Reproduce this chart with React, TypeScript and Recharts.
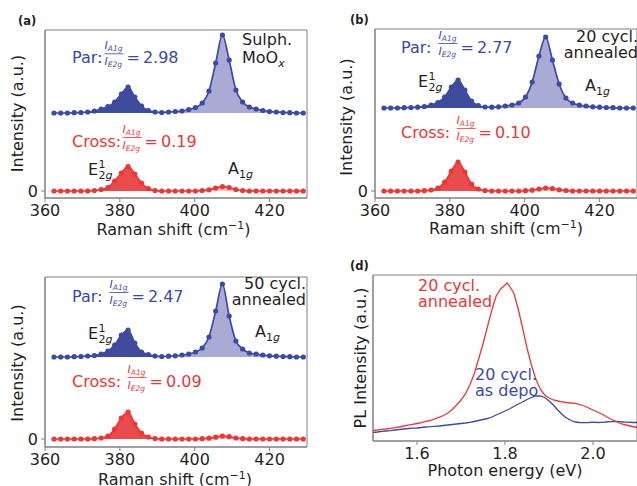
import React from 'react';
import { ComposedChart, Line, Area, XAxis, YAxis, ReferenceArea } from 'recharts';

const FONT = '"DejaVu Sans", "Liberation Sans", sans-serif';
const INK = '#1f1f1f';
const SPINE = '#808080';
const BLUE = '#3a4aa6';
const BLUE_E2G_FILL = '#3f4c9c';
const BLUE_A1G_FILL = '#aaabd4';
const RED = '#f03535';
const RED_E2G_FILL = '#ea4b4d';
const RED_A1G_FILL = '#f8c2c2';

// Raman shift sampling (cm^-1), shared by the three Raman panels
const ramanShift = [
  362.4, 364.2, 366.0, 367.8, 369.6, 371.4, 373.2, 375.0, 376.8, 378.6,
  380.4, 382.2, 384.0, 385.8, 387.6, 389.4, 391.2, 393.0, 394.8, 396.6,
  398.4, 400.2, 402.0, 403.8, 405.6, 407.4, 409.2, 411.0, 412.8, 414.6,
  416.4, 418.2, 420.0, 421.8, 423.6, 425.4, 427.2, 429.0,
];
const ramanTicks = [360, 380, 400, 420];

// (a) Sulphurised MoOx
const parSulph = [
  0, 0, 0, 0.3, 0.5, 1, 2, 4, 6.5, 11,
  19, 26, 16, 7, 2.5, 1, 0.5, 1, 1.5, 2,
  3.5, 5.5, 10, 22, 50, 78, 53, 23, 11, 6,
  4, 2.5, 1.5, 1, 0.5, 0.3, 0, 0,
];
const crossSulph = [
  0, 0, 0, 0, 0, 0, 0.5, 1.5, 3.5, 10,
  18, 24.5, 17, 8, 2.5, 0.5, 0, 0, 0, 0,
  0, 0, 0.5, 1.2, 3, 4.3, 3.5, 1.5, 0.5, 0,
  0, 0, 0, 0, 0, 0, 0, 0,
];

// (b) 20 cycles, annealed
const par20 = [
  0, 0, 0, 0.3, 0.5, 0.8, 1.5, 3, 5.5, 11,
  21, 28, 18, 7, 2.5, 1, 0.8, 1.2, 2, 3,
  5, 11, 26, 52, 71, 48, 24, 10, 5, 3,
  2, 1.2, 0.8, 0.5, 0.3, 0, 0, 0,
];
const cross20 = [
  0, 0, 0, 0, 0, 0, 0.3, 1, 3, 9,
  20, 29, 19, 7, 2, 0.5, 0, 0, 0, 0,
  0, 0.3, 0.8, 2, 3, 2.5, 1.2, 0.5, 0, 0,
  0, 0, 0, 0, 0, 0, 0, 0,
];

// (c) 50 cycles, annealed
const par50 = [
  0, 0, 0, 0.3, 0.5, 1, 1.5, 3, 6, 12,
  22, 27, 14, 5, 2.5, 1, 0.5, 0.8, 1.2, 2,
  3, 5, 9, 20, 46, 73, 41, 16, 8, 4,
  3, 2, 1.2, 0.8, 0.5, 0.3, 0, 0,
];
const cross50 = [
  0, 0, 0, 0, 0, 0, 0.3, 1, 3, 10,
  21, 27, 15, 6, 2, 0.5, 0, 0, 0, 0,
  0, 0, 0.3, 0.8, 1.8, 3, 2.3, 1, 0.3, 0,
  0, 0, 0, 0, 0, 0, 0, 0,
];

// (d) photoluminescence
const photonEnergy = [
  1.5, 1.51, 1.52, 1.53, 1.54, 1.55, 1.56, 1.57, 1.58, 1.59,
  1.6, 1.61, 1.62, 1.63, 1.64, 1.65, 1.66, 1.67, 1.68, 1.69,
  1.7, 1.71, 1.72, 1.73, 1.74, 1.75, 1.76, 1.77, 1.78, 1.79,
  1.8, 1.805, 1.81, 1.82, 1.83, 1.84, 1.85, 1.86, 1.87, 1.88,
  1.89, 1.9, 1.91, 1.92, 1.93, 1.94, 1.95, 1.96, 1.97, 1.98,
  1.99, 2.0, 2.01, 2.02, 2.03, 2.04, 2.05, 2.06, 2.07, 2.08,
  2.09, 2.1,
];
const plAnnealed = [
  10.5, 11, 11.6, 12, 12.6, 13.4, 14, 15, 15.8, 16.6,
  17.5, 18.4, 19.6, 20.5, 22, 23.6, 25.5, 28, 31.5, 36,
  41, 47, 56, 67, 82, 97, 114, 131, 145, 152,
  156, 158, 155, 148, 132, 113, 93, 76, 62, 52,
  46, 43, 41, 40, 39.2, 38.5, 38, 37.6, 36.5, 35,
  33, 31, 29, 27, 24.5, 22, 20, 18, 16.5, 15.5,
  14.5, 13.5,
];
const plAsDeposited = [
  8.5, 9, 9.6, 10, 10.4, 11, 11.5, 12, 12.5, 12.8,
  13, 13.5, 14, 14.3, 14.7, 15, 15.5, 16, 16.5, 17,
  17.5, 18, 18.7, 19.5, 20.5, 21.5, 22.5, 24, 26, 28,
  30, 31, 32, 34.5, 37, 39, 41.5, 43.5, 45, 45,
  43.5, 40, 36, 31, 26.5, 23, 20.5, 19, 18.5, 18.3,
  18.5, 18.8, 18.5, 18.7, 19, 19.3, 19.5, 19.3, 19, 18.8,
  18.5, 18.5,
];
const energyTicks = [1.6, 1.8, 2.0];

// Boundaries between the E2g and A1g shaded regions
const PAR_SPLIT = 389.4;
const CROSS_SPLIT = 393.0;

type RamanRow = {
  x: number;
  par: number;
  cross: number;
  parE2g: number | null;
  parA1g: number | null;
  crossE2g: number | null;
  crossA1g: number | null;
};

function buildRaman(par: number[], cross: number[], offset: number): RamanRow[] {
  return ramanShift.map((x, i) => {
    const p = par[i] + offset;
    const c = cross[i];
    return {
      x,
      par: p,
      cross: c,
      parE2g: x <= PAR_SPLIT ? p : null,
      parA1g: x >= PAR_SPLIT ? p : null,
      crossE2g: x <= CROSS_SPLIT ? c : null,
      crossA1g: x >= CROSS_SPLIT ? c : null,
    };
  });
}

const plRows = photonEnergy.map((e, i) => ({ e, ann: plAnnealed[i], depo: plAsDeposited[i] }));

const tickStyle = { fontSize: 16, fill: INK, fontFamily: FONT };

type Box = {
  left: number;
  top: number;
  width: number;
  height: number;
  margin: { top: number; right: number; bottom: number; left: number };
};

function RamanPanel({ rows, offset, yDomain, box }: { rows: RamanRow[]; offset: number; yDomain: [number, number]; box: Box }) {
  const areaCommon = {
    type: 'monotone' as const,
    stroke: 'none',
    fillOpacity: 1,
    isAnimationActive: false,
    dot: false,
    activeDot: false,
  };
  return (
    <div style={{ position: 'absolute', left: box.left, top: box.top }}>
      <ComposedChart width={box.width} height={box.height} data={rows} margin={box.margin}>
        <XAxis
          dataKey="x"
          type="number"
          domain={[360, 430]}
          ticks={ramanTicks}
          allowDataOverflow
          tick={tickStyle}
          tickSize={4}
          tickMargin={3}
          stroke={SPINE}
          height={30}
        />
        <YAxis
          type="number"
          domain={yDomain}
          ticks={[0]}
          allowDataOverflow
          tick={tickStyle}
          tickSize={4}
          tickMargin={3}
          stroke={SPINE}
          width={45}
        />
        <Area {...areaCommon} dataKey="crossE2g" baseValue={0} fill={RED_E2G_FILL} />
        <Area {...areaCommon} dataKey="crossA1g" baseValue={0} fill={RED_A1G_FILL} />
        <Area {...areaCommon} dataKey="parE2g" baseValue={offset} fill={BLUE_E2G_FILL} />
        <Area {...areaCommon} dataKey="parA1g" baseValue={offset} fill={BLUE_A1G_FILL} />
        <Line
          type="monotone"
          dataKey="cross"
          stroke={RED}
          strokeWidth={1.7}
          dot={{ r: 2.6, fill: RED, stroke: RED, strokeWidth: 0 }}
          activeDot={false}
          isAnimationActive={false}
        />
        <Line
          type="monotone"
          dataKey="par"
          stroke={BLUE}
          strokeWidth={1.7}
          dot={{ r: 2.6, fill: BLUE, stroke: BLUE, strokeWidth: 0 }}
          activeDot={false}
          isAnimationActive={false}
        />
        <ReferenceArea
          x1={360}
          x2={430}
          y1={yDomain[0]}
          y2={yDomain[1]}
          fill="none"
          fillOpacity={0}
          stroke={SPINE}
          strokeWidth={1}
          ifOverflow="visible"
        />
      </ComposedChart>
    </div>
  );
}

function PLPanel() {
  return (
    <div style={{ position: 'absolute', left: 318, top: 240 }}>
      <ComposedChart width={319} height={246} data={plRows} margin={{ top: 35, right: 0, bottom: 15, left: 0 }}>
        <XAxis
          dataKey="e"
          type="number"
          domain={[1.5, 2.1]}
          ticks={energyTicks}
          tickFormatter={(v: number) => v.toFixed(1)}
          allowDataOverflow
          tick={tickStyle}
          tickSize={4}
          tickMargin={3}
          stroke={SPINE}
          height={30}
        />
        <YAxis type="number" domain={[0, 166]} ticks={[]} tick={false} tickLine={false} stroke={SPINE} width={55} />
        <Line type="linear" dataKey="depo" stroke={BLUE} strokeWidth={1.3} dot={false} activeDot={false} isAnimationActive={false} />
        <Line type="linear" dataKey="ann" stroke={RED} strokeWidth={1.3} dot={false} activeDot={false} isAnimationActive={false} />
        <ReferenceArea x1={1.5} x2={2.1} y1={0} y2={166} fill="none" fillOpacity={0} stroke={SPINE} strokeWidth={1} ifOverflow="visible" />
      </ComposedChart>
    </div>
  );
}

function Ratio({ x, y, label, gap, value, color }: { x: number; y: number; label: string; gap: number; value: string; color: string }) {
  const labelW = label === 'Par:' ? 31.5 : 49.6;
  const fx = x + labelW + gap + 1;
  const fw = 19;
  const eqX = fx + fw + 3;
  return (
    <g fill={color} fontFamily={FONT}>
      <text x={x} y={y} fontSize={16}>{label}</text>
      <text x={fx} y={y - 14} fontSize={11}>
        <tspan fontStyle="italic">I</tspan>
        <tspan fontSize={7.5} dy={1.5} fontStyle="italic">A1g</tspan>
      </text>
      <line x1={fx} x2={fx + fw} y1={y - 9.5} y2={y - 9.5} stroke={color} strokeWidth={0.8} />
      <text x={fx} y={y + 2} fontSize={11}>
        <tspan fontStyle="italic">I</tspan>
        <tspan fontSize={7.5} dy={1.5} fontStyle="italic">E2g</tspan>
      </text>
      <text x={eqX} y={y} fontSize={16}>=</text>
      <text x={eqX + 16.4} y={y} fontSize={16}>{value}</text>
    </g>
  );
}

function E2g({ x, y }: { x: number; y: number }) {
  return (
    <g fill={INK} fontFamily={FONT}>
      <text x={x} y={y} fontSize={16}>E</text>
      <text x={x + 10.5} y={y - 7} fontSize={11}>1</text>
      <text x={x + 10.5} y={y + 3.5} fontSize={11}>
        2<tspan fontStyle="italic">g</tspan>
      </text>
    </g>
  );
}

function A1g({ x, y }: { x: number; y: number }) {
  return (
    <g fill={INK} fontFamily={FONT}>
      <text x={x} y={y} fontSize={16}>A</text>
      <text x={x + 11} y={y + 3.5} fontSize={11}>
        1<tspan fontStyle="italic">g</tspan>
      </text>
    </g>
  );
}

function YTitle({ x, y, text }: { x: number; y: number; text: string }) {
  return (
    <text transform={`translate(${x},${y}) rotate(-90)`} textAnchor="middle" fontSize={16} fill={INK} fontFamily={FONT}>
      {text}
    </text>
  );
}

function RamanTitle({ x, y }: { x: number; y: number }) {
  return (
    <text x={x} y={y} textAnchor="middle" fontSize={16} fill={INK} fontFamily={FONT}>
      Raman shift (cm<tspan fontSize={11} dy={-6}>−1</tspan>
      <tspan dy={6}>)</tspan>
    </text>
  );
}

function PanelTag({ x, y, text }: { x: number; y: number; text: string }) {
  return (
    <text x={x} y={y} fontSize={11.5} fontWeight="bold" fill={INK} fontFamily={FONT}>
      {text}
    </text>
  );
}

const rowsSulph = buildRaman(parSulph, crossSulph, 78);
const rows20 = buildRaman(par20, cross20, 83);
const rows50 = buildRaman(par50, cross50, 82);

export default function App() {
  return (
    <div
      style={{
        position: 'absolute',
        left: 0,
        top: 0,
        width: 637,
        height: 486,
        overflow: 'hidden',
        background: '#ffffff',
        fontFamily: FONT,
      }}
    >
      <RamanPanel
        rows={rowsSulph}
        offset={78}
        yDomain={[-7, 161]}
        box={{ left: 0, top: 0, width: 320, height: 240, margin: { top: 30, right: 13, bottom: 12, left: 0 } }}
      />
      <RamanPanel
        rows={rows20}
        offset={83}
        yDomain={[-7, 162]}
        box={{ left: 330, top: 0, width: 307, height: 240, margin: { top: 29, right: 0, bottom: 12, left: 0 } }}
      />
      <RamanPanel
        rows={rows50}
        offset={82}
        yDomain={[-8, 162]}
        box={{ left: 0, top: 240, width: 320, height: 246, margin: { top: 37, right: 13, bottom: 9, left: 0 } }}
      />
      <PLPanel />

      <svg
        width={637}
        height={486}
        style={{ position: 'absolute', left: 0, top: 0, pointerEvents: 'none', overflow: 'visible' }}
      >
        {/* (a) */}
        <PanelTag x={18} y={25} text="(a)" />
        <YTitle x={23} y={113.5} text="Intensity (a.u.)" />
        <RamanTitle x={173.5} y={235} />
        <Ratio x={72} y={63.3} label="Par:" gap={0} value="2.98" color={BLUE} />
        <Ratio x={72} y={147} label="Cross:" gap={0} value="0.19" color={RED} />
        <text x={242} y={45} fontSize={16} fill={INK} fontFamily={FONT}>Sulph.</text>
        <text x={242} y={63.3} fontSize={16} fill={INK} fontFamily={FONT}>
          MoO<tspan fontSize={11} dy={3.5} fontStyle="italic">x</tspan>
        </text>
        <E2g x={88} y={175} />
        <A1g x={228} y={174} />

        {/* (b) */}
        <PanelTag x={350} y={24} text="(b)" />
        <YTitle x={352} y={117} text="Intensity (a.u.)" />
        <RamanTitle x={506} y={234} />
        <Ratio x={401} y={53} label="Par:" gap={5} value="2.77" color={BLUE} />
        <Ratio x={401} y={138} label="Cross:" gap={5} value="0.10" color={RED} />
        <text x={638} y={42} textAnchor="end" fontSize={16} fill={INK} fontFamily={FONT}>20 cycl.</text>
        <text x={638} y={57.5} textAnchor="end" fontSize={16} fill={INK} fontFamily={FONT}>annealed</text>
        <E2g x={418} y={87} />
        <A1g x={585} y={91} />

        {/* (c) */}
        <YTitle x={23} y={363} text="Intensity (a.u.)" />
        <RamanTitle x={175} y={485} />
        <Ratio x={72} y={302} label="Par:" gap={5} value="2.47" color={BLUE} />
        <Ratio x={72} y={387} label="Cross:" gap={5} value="0.09" color={RED} />
        <text x={306} y={289} textAnchor="end" fontSize={16} fill={INK} fontFamily={FONT}>50 cycl.</text>
        <text x={306} y={305} textAnchor="end" fontSize={16} fill={INK} fontFamily={FONT}>annealed</text>
        <E2g x={88} y={339} />
        <A1g x={255} y={337} />

        {/* (d) */}
        <PanelTag x={350} y={270} text="(d)" />
        <YTitle x={366} y={358} text="PL Intensity (a.u.)" />
        <text x={505} y={476} textAnchor="middle" fontSize={16} fill={INK} fontFamily={FONT}>Photon energy (eV)</text>
        <text x={418} y={291} fontSize={16} fill={RED} fontFamily={FONT}>20 cycl.</text>
        <text x={418} y={306.5} fontSize={16} fill={RED} fontFamily={FONT}>annealed</text>
        <text x={475} y={380} fontSize={16} fill={BLUE} fontFamily={FONT}>20 cycl.</text>
        <text x={475} y={395.5} fontSize={16} fill={BLUE} fontFamily={FONT}>as depo</text>
      </svg>
    </div>
  );
}
